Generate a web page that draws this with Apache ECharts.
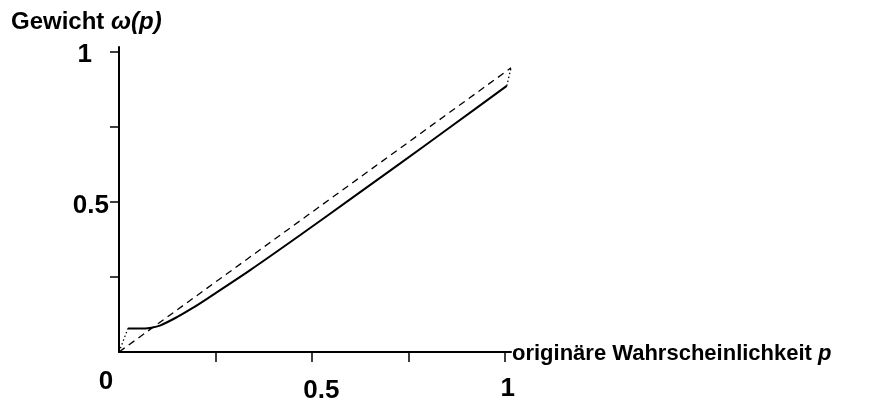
<!DOCTYPE html>
<html>
<head>
<meta charset="utf-8">
<script src="https://cdn.jsdelivr.net/npm/echarts@6/dist/echarts.min.js"></script>
<style>html,body{margin:0;padding:0;background:#fff}#c{width:889px;height:404px}</style>
</head>
<body>
<div id="c"></div>
<script>
// Probability weighting function
const pSolid = [0.023, 0.054, 0.080, 0.106, 0.150, 0.190, 0.230, 0.339, 0.469, 0.598, 0.728, 0.858, 1.005];
const wSolid = [0.078, 0.078, 0.080, 0.088, 0.116, 0.146, 0.179, 0.272, 0.389, 0.508, 0.628, 0.749, 0.887];
const pDiag = [0, 1.016];
const wDiag = [0, 0.947];
const pLowLink = [0, 0.023];
const wLowLink = [0, 0.078];
const pHighLink = [1.005, 1.016];
const wHighLink = [0.887, 0.947];
const xTicks = [0.25, 0.5, 0.75, 1];
const xLabels = [0, 0.5, 1];
const yTicks = [0.25, 0.5, 0.75, 1];
const yLabels = [0.5, 1];

const pairs = (xs, ys) => xs.map((x, i) => [x, ys[i]]);
const FONT = 'Liberation Sans';
const lab = {fontFamily: FONT, fontWeight: 'bold', fontSize: 26, color: '#000'};

const chart = echarts.init(document.getElementById('c'), null, {renderer: 'canvas'});
chart.setOption({
  animation: false,
  backgroundColor: '#fff',
  title: {
    text: '{a|Gewicht }{b|ω(p)}',
    left: 6, top: 5,
    textStyle: {
      rich: {
        a: {fontFamily: FONT, fontWeight: 'bold', fontSize: 24, color: '#000'},
        b: {fontFamily: FONT, fontWeight: 'bold', fontStyle: 'italic', fontSize: 24, color: '#000'}
      }
    }
  },
  grid: {left: 119, right: 378, top: 47, bottom: 51, containLabel: false},
  xAxis: {
    type: 'value', min: 0, max: 1.016,
    splitLine: {show: false},
    axisLine: {lineStyle: {color: '#000', width: 2}},
    axisTick: {show: true, customValues: xTicks, length: 10, lineStyle: {color: '#000', width: 1.5}},
    axisLabel: {
      customValues: xLabels, margin: 17,
      formatter: v => v === 0 ? '{z|0}' : (v === 0.5 ? '{h|0.5}' : '{o|1}'),
      rich: {
        z: Object.assign({padding: [0, 26, 0, 0]}, lab),
        h: Object.assign({padding: [9, 0, 0, 19]}, lab),
        o: Object.assign({padding: [7, 0, 0, 6]}, lab)
      }
    },
    name: '{a|originäre Wahrscheinlichkeit }{b|p}',
    nameLocation: 'end', nameGap: 1,
    nameTextStyle: {
      rich: {
        a: {fontFamily: FONT, fontWeight: 'bold', fontSize: 22, color: '#000', padding: [4, 0, 0, 0]},
        b: {fontFamily: FONT, fontWeight: 'bold', fontStyle: 'italic', fontSize: 22, color: '#000', padding: [4, 0, 0, 0]}
      }
    }
  },
  yAxis: {
    type: 'value', min: 0, max: 1.0166,
    splitLine: {show: false},
    axisLine: {lineStyle: {color: '#000', width: 2}},
    axisTick: {show: true, customValues: yTicks, length: 9, lineStyle: {color: '#000', width: 1.5}},
    axisLabel: {
      customValues: yLabels, margin: 10,
      formatter: v => v === 1 ? '{o|1}' : '{h|0.5}',
      rich: {
        h: Object.assign({padding: [8, 0, 0, 0]}, lab),
        o: Object.assign({padding: [6, 17, 0, 0]}, lab)
      }
    }
  },
  series: [
    {
      type: 'line', data: pairs(pDiag, wDiag), showSymbol: false, clip: false,
      lineStyle: {color: '#000', width: 1.3, type: [7, 5]}
    },
    {
      type: 'line', data: pairs(pSolid, wSolid), showSymbol: false, clip: false,
      smooth: 0.3,
      lineStyle: {color: '#000', width: 2}
    },
    {
      type: 'line', data: pairs(pLowLink, wLowLink), showSymbol: false, clip: false,
      lineStyle: {color: '#000', width: 1.3, type: [1.5, 2.5]}
    },
    {
      type: 'line', data: pairs(pHighLink, wHighLink), showSymbol: false, clip: false,
      lineStyle: {color: '#000', width: 1.3, type: [1.5, 2.5]}
    }
  ]
});
</script>
</body>
</html>
